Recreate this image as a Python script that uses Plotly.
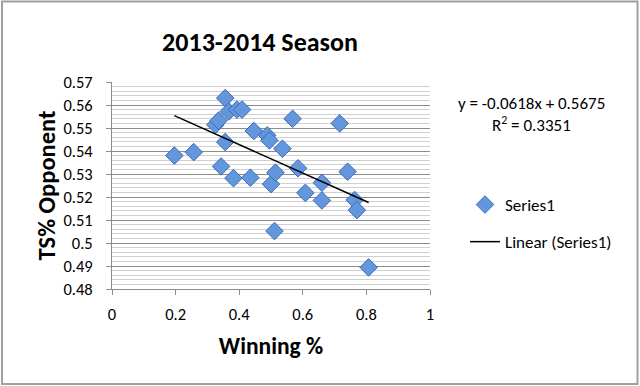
import plotly.graph_objects as go

# Data
win_pct = [0.196, 0.257, 0.325, 0.335, 0.343, 0.356, 0.356, 0.367, 0.382, 0.393,
           0.409, 0.435, 0.446, 0.488, 0.495, 0.500, 0.511, 0.514, 0.536, 0.568,
           0.585, 0.608, 0.660, 0.660, 0.716, 0.741, 0.763, 0.770, 0.807]
ts_opp = [0.5380, 0.5395, 0.5514, 0.5532, 0.5333, 0.5630, 0.5439, 0.5572, 0.5282, 0.5580,
          0.5580, 0.5284, 0.5487, 0.5468, 0.5446, 0.5256, 0.5052, 0.5306, 0.5410, 0.5540,
          0.5325, 0.5218, 0.5262, 0.5185, 0.5520, 0.5310, 0.5187, 0.5143, 0.4894]
slope = -0.0618
intercept = 0.5675
r_squared = 0.3351
y_tick_vals = [0.48, 0.49, 0.50, 0.51, 0.52, 0.53, 0.54, 0.55, 0.56, 0.57]
y_tick_text = ["0.48", "0.49", "0.5", "0.51", "0.52", "0.53", "0.54", "0.55", "0.56", "0.57"]
x_tick_vals = [0, 0.2, 0.4, 0.6, 0.8, 1]
x_tick_text = ["0", "0.2", "0.4", "0.6", "0.8", "1"]

FONT = "Carlito, Calibri, Lato, sans-serif"

trend_x = [min(win_pct), max(win_pct)]
trend_y = [slope * v + intercept for v in trend_x]

fig = go.Figure()
fig.add_trace(go.Scatter(
    x=win_pct, y=ts_opp, mode="markers", name="Series1", legendgroup="a",
    marker=dict(symbol="diamond", size=13.5, color="#6397DD",
                line=dict(color="#3D6DB3", width=1)),
))
fig.add_trace(go.Scatter(
    x=trend_x, y=trend_y, mode="lines", name="Linear (Series1)", legendgroup="b",
    line=dict(color="black", width=1.5),
))

W, H = 640, 386
ml, mr, mt, mb = 112, 210, 82, 97
pw, ph = W - ml - mr, H - mt - mb

def px_to_paper_x(px):
    return (px - ml) / pw

def px_to_paper_y(py):
    return (H - mb - py) / ph

fig.add_shape(type="rect", xref="paper", yref="paper",
              x0=px_to_paper_x(2), x1=px_to_paper_x(637.5),
              y0=px_to_paper_y(384), y1=px_to_paper_y(1.5),
              line=dict(color="#A0A0A0", width=2), fillcolor="rgba(0,0,0,0)")

fig.add_annotation(xref="paper", yref="paper", x=px_to_paper_x(531), y=px_to_paper_y(103),
                   xanchor="center", yanchor="middle",
                   text=f"y = {slope}x + {intercept}", showarrow=False,
                   font=dict(family=FONT, size=17, color="black"))
fig.add_annotation(xref="paper", yref="paper", x=px_to_paper_x(531), y=px_to_paper_y(124),
                   xanchor="center", yanchor="middle",
                   text=f"R<sup>2</sup> = {r_squared}", showarrow=False,
                   font=dict(family=FONT, size=17, color="black"))

fig.update_layout(
    width=W, height=H,
    margin=dict(l=ml, r=mr, t=mt, b=mb),
    paper_bgcolor="white", plot_bgcolor="white",
    font=dict(family=FONT, size=16, color="black"),
    title=dict(text="<b>2013-2014 Season</b>", x=260 / W,
               xanchor="center", y=1 - 42 / H, yanchor="middle",
               font=dict(family=FONT, size=26, color="black")),
    showlegend=True,
    legend=dict(x=px_to_paper_x(465), y=px_to_paper_y(187), xanchor="left", yanchor="top",
                font=dict(family=FONT, size=17, color="black"),
                tracegroupgap=12, traceorder="grouped", bgcolor="rgba(0,0,0,0)"),
    xaxis=dict(range=[0, 1], tickvals=x_tick_vals, ticktext=x_tick_text,
               showgrid=False, zeroline=False, showline=True, linecolor="#8C8C8C",
               linewidth=1, ticks="outside", ticklen=5, tickcolor="#8C8C8C",
               tickfont=dict(family=FONT, size=16.5), ticklabelstandoff=5,
               title=dict(text="<b>Winning %</b>", font=dict(family=FONT, size=23.5), standoff=14)),
    yaxis=dict(range=[0.48, 0.57], tickvals=y_tick_vals, ticktext=y_tick_text,
               showgrid=True, gridcolor="#8C8C8C", gridwidth=1,
               zeroline=False, showline=True, linecolor="#8C8C8C", linewidth=1,
               ticks="outside", ticklen=5, tickcolor="#8C8C8C",
               tickfont=dict(family=FONT, size=16.5), ticklabelstandoff=10,
               minor=dict(dtick=0.002, showgrid=True, gridcolor="#D0D0D0", gridwidth=1),
               title=dict(text="<b>TS% Opponent</b>", font=dict(family=FONT, size=24.5), standoff=0)),
)

fig.write_html("out.html", config={"displayModeBar": False},
               post_script="document.body.style.margin='0';")
